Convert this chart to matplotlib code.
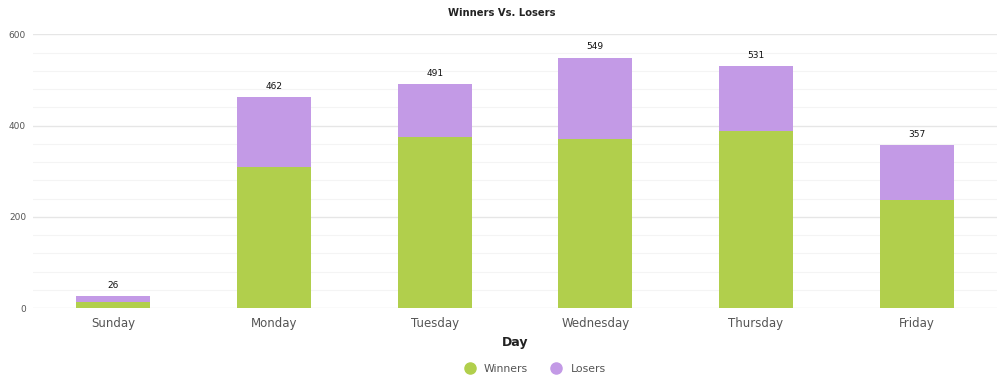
import matplotlib
matplotlib.use("Agg")
import matplotlib.pyplot as plt
from matplotlib.ticker import MultipleLocator
from matplotlib.lines import Line2D
import numpy as np

days = ["Sunday", "Monday", "Tuesday", "Wednesday", "Thursday", "Friday"]
winners = [14, 310, 375, 370, 388, 236]
losers = [12, 152, 116, 179, 143, 121]
totals = [26, 462, 491, 549, 531, 357]

green = "#b1cf4c"
purple = "#c39ae6"

fig = plt.figure(figsize=(9.97, 3.84), dpi=100)
ax = fig.add_axes([33 / 997, 1 - 308.2 / 384, 964 / 997, (308.2 - 34.3) / 384])

x = np.arange(len(days))
ax.bar(x, winners, width=0.46, color=green, zorder=3)
ax.bar(x, losers, width=0.46, bottom=winners, color=purple, zorder=3)
for xi, t in zip(x, totals):
    ax.annotate(str(t), (xi, t), xytext=(0, 4.5), textcoords="offset points",
                ha="center", va="bottom", fontsize=6.5, color="#111111")

ax.set_xlim(-0.5, len(days) - 0.5)
ax.set_ylim(0, 600)
ax.yaxis.set_major_locator(MultipleLocator(200))
ax.yaxis.set_minor_locator(MultipleLocator(40))
ax.grid(axis="y", which="major", color="#e6e6e6", linewidth=1, zorder=0)
ax.grid(axis="y", which="minor", color="#f4f4f4", linewidth=0.8, zorder=0)
for s in ax.spines.values():
    s.set_visible(False)
ax.tick_params(axis="y", which="both", length=0, labelsize=6.5, labelcolor="#555555", pad=5)
ax.tick_params(axis="x", length=0, labelsize=8.5, labelcolor="#555555", pad=6)
ax.set_xticks(x)
ax.set_xticklabels(days)
ax.set_xlabel("Day", fontsize=9, fontweight="bold", color="#222222", labelpad=5)

fig.text(0.503, 1 - 13 / 384, "Winners Vs. Losers", ha="center", va="center",
         fontsize=7.2, fontweight="bold", color="#222222")

handles = [Line2D([], [], marker="o", linestyle="", markersize=8, color=green),
           Line2D([], [], marker="o", linestyle="", markersize=8, color=purple)]
fig.legend(handles, ["Winners", "Losers"], loc="center", bbox_to_anchor=(0.534, 1 - 369 / 384),
           ncol=2, frameon=False, fontsize=7.8, labelcolor="#555555", handletextpad=0.3,
           columnspacing=1.6)

fig.savefig("out.png", dpi=100)
